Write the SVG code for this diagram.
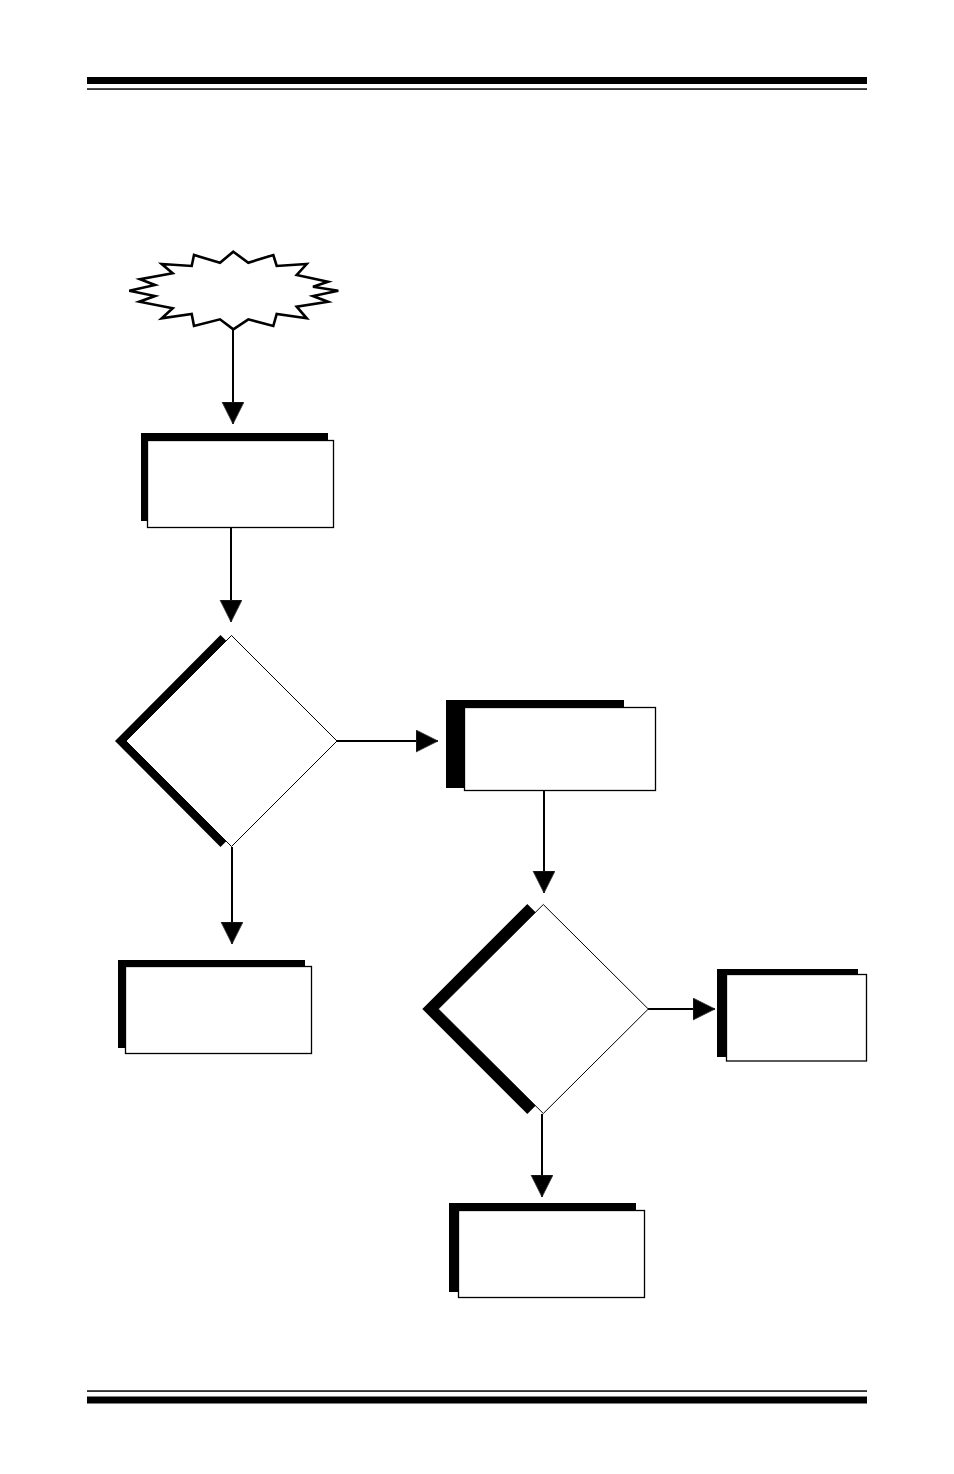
<svg xmlns="http://www.w3.org/2000/svg" width="954" height="1474" viewBox="0 0 954 1474">
<style>
.shadow{fill:#000;stroke:none}
.box{fill:#fff;stroke:#000;stroke-width:1.3}
.dia{fill:#fff;stroke:#000;stroke-width:1}
.conn{fill:none;stroke:#000;stroke-width:2}
.star{fill:#fff;stroke:#000;stroke-width:2.6;stroke-linejoin:miter}
</style>
<defs>
<marker id="arr" markerUnits="userSpaceOnUse" markerWidth="24" markerHeight="24" refX="22" refY="11" orient="auto">
<path d="M0,0 L22,11 L0,22 z" fill="#000" stroke="#333" stroke-width="0.8"/>
</marker>
</defs>
<rect width="954" height="1474" fill="#fff"/>
<g id="header">
<rect x="87" y="77" width="780" height="7" fill="#000"/>
<rect x="87" y="88.3" width="780" height="1.5" fill="#000"/>
</g>
<g id="footer">
<rect x="87" y="1390.3" width="780" height="1.5" fill="#000"/>
<rect x="87" y="1396.5" width="780" height="7" fill="#000"/>
</g>
<g id="connectors">
<path class="conn" d="M233,330 V424" marker-end="url(#arr)"/>
<path class="conn" d="M231,527 V622" marker-end="url(#arr)"/>
<path class="conn" d="M337,741 H438" marker-end="url(#arr)"/>
<path class="conn" d="M232,847 V944" marker-end="url(#arr)"/>
<path class="conn" d="M544,790 V893" marker-end="url(#arr)"/>
<path class="conn" d="M648,1009 H715" marker-end="url(#arr)"/>
<path class="conn" d="M542,1114 V1197" marker-end="url(#arr)"/>
</g>
<g id="start">
<polygon class="star" points="233.3,251.7 248.3,262.7 273.3,255 276.7,266 306.7,264 296.7,275 328,281.7 313,286.7 338.3,290.7 313,296 328,301.7 296.7,306.7 306.7,318.3 276.7,314 273.3,326 248.3,319.3 233.3,329.3 220,319.3 194,326 191.7,314 161.7,318.3 172.7,308.3 139.3,301.7 155,296 129.3,290.7 155,285 140,279.3 172.7,273.3 161.7,264 191.7,266 194,255 220,262.7"/>
</g>
<g id="box1">
<rect class="shadow" x="141" y="433" width="187" height="88"/>
<rect class="box" x="147.5" y="440.5" width="186" height="87"/>
</g>
<g id="decision1">
<polygon class="shadow" points="220.5,635 326,741 220.5,847 115,741"/>
<polygon class="dia" points="231.5,635.5 337,741 231.5,846.5 126,741"/>
</g>
<g id="box2">
<rect class="shadow" x="446" y="700" width="178" height="88"/>
<rect class="box" x="464.5" y="707.5" width="191" height="83"/>
</g>
<g id="box4">
<rect class="shadow" x="118" y="960" width="187" height="88"/>
<rect class="box" x="125.5" y="966.5" width="186" height="87"/>
</g>
<g id="decision2">
<polygon class="shadow" points="527.3,904 632.3,1009 527.3,1114 422.3,1009"/>
<polygon class="dia" points="543.3,904.5 648.3,1009 543.3,1113.5 438.3,1009"/>
</g>
<g id="box3">
<rect class="shadow" x="717" y="969" width="141" height="88"/>
<rect class="box" x="726.5" y="974.5" width="140" height="86.5"/>
</g>
<g id="box5">
<rect class="shadow" x="449" y="1203" width="187" height="89"/>
<rect class="box" x="458.5" y="1210.5" width="186" height="87"/>
</g>
</svg>
